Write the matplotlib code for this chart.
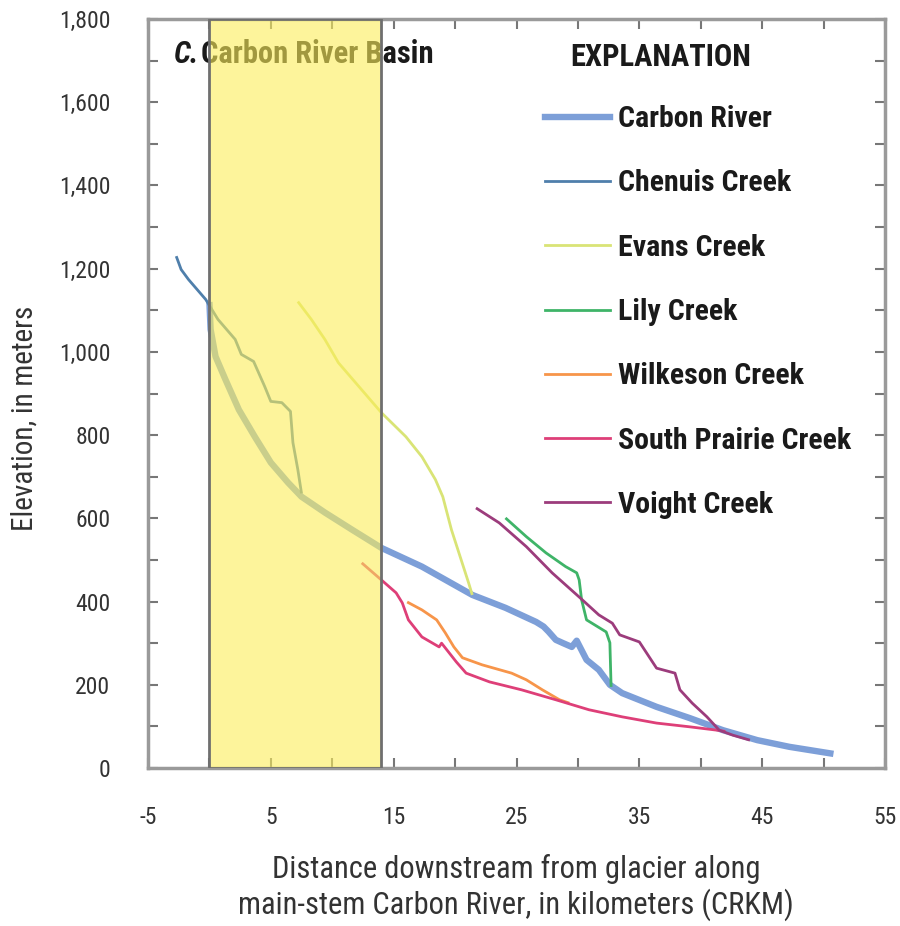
import matplotlib
matplotlib.use("Agg")
import matplotlib.pyplot as plt
from matplotlib.lines import Line2D
from matplotlib.patches import Rectangle
from matplotlib.ticker import FixedLocator, FuncFormatter

FONT = ["Roboto Condensed", "Archivo Narrow", "Barlow Semi Condensed",
        "DejaVu Sans"]
plt.rcParams["font.family"] = FONT
plt.rcParams["axes.unicode_minus"] = False

# ---- river profiles: distance (CRKM) vs elevation (m) ----------------------
carbon_x = [0.0, 0.1, 0.5, 1.3, 2.4, 3.7, 5.0, 6.4, 7.5, 9.4, 11.6, 14.0,
            17.3, 21.4, 24.1, 26.6, 27.2, 27.6, 28.2, 28.8, 29.5, 29.9,
            30.7, 31.7, 32.6, 33.6, 36.4, 39.1, 41.8, 44.6, 47.2, 50.8]
carbon_y = [1120, 1054, 989, 934, 861, 796, 734, 686, 652, 614, 573, 529,
            484, 416, 385, 351, 340, 328, 308, 300, 291, 306,
            260, 236, 200, 180, 147, 120, 91, 67, 51, 34]

chenuis_x = [-2.7, -2.3, -1.7, -0.3, 0.7, 2.1, 2.6, 3.6, 4.5, 5.0, 5.9,
             6.6, 6.8, 7.2, 7.5]
chenuis_y = [1230, 1198, 1174, 1126, 1078, 1030, 994, 977, 917, 881, 878,
             857, 782, 717, 660]

evans_x = [7.2, 8.3, 9.4, 10.5, 11.9, 14.0, 16.0, 17.3, 18.4, 19.0, 19.7,
           21.1, 21.4]
evans_y = [1121, 1078, 1030, 974, 926, 854, 796, 748, 693, 652, 573,
           445, 416]

lily_x = [24.1, 25.8, 27.4, 29.0, 29.9, 30.1, 30.3, 30.7, 32.3, 32.6, 32.7]
lily_y = [601, 556, 517, 484, 469, 452, 404, 356, 327, 301, 195]

wilkeson_x = [16.1, 17.3, 18.5, 19.2, 19.9, 20.6, 22.2, 24.6, 25.8, 27.1,
              28.5, 29.3]
wilkeson_y = [399, 380, 356, 325, 291, 265, 248, 228, 212, 188, 164, 156]

prairie_x = [12.4, 14.0, 15.2, 15.7, 16.2, 17.3, 18.7, 18.9, 20.1, 20.9,
             22.8, 25.4, 28.2, 30.9, 33.6, 36.4, 39.1, 41.3, 42.0]
prairie_y = [493, 452, 421, 397, 356, 315, 291, 300, 255, 228, 207, 188,
             164, 140, 123, 108, 99, 91, 88]

voight_x = [21.7, 23.6, 25.8, 27.9, 30.1, 31.7, 32.8, 33.4, 35.0, 35.6,
            36.4, 37.9, 38.3, 39.3, 40.5, 41.5, 42.6, 44.0]
voight_y = [625, 589, 532, 469, 411, 368, 348, 320, 303, 276, 240, 228,
            188, 156, 123, 91, 79, 67]

BASIN_START, BASIN_END = 0, 14   # shaded reach along the main stem

x_major = [-5, 5, 15, 25, 35, 45, 55]
x_minor = [0, 10, 20, 30, 40, 50]
y_major = [0, 200, 400, 600, 800, 1000, 1200, 1400, 1600, 1800]
y_minor = [100, 300, 500, 700, 900, 1100, 1300, 1500, 1700]

series = [
    ("Carbon River", carbon_x, carbon_y, "#7d9fd8", 4.6),
    ("Chenuis Creek", chenuis_x, chenuis_y, "#4f7fab", 2.0),
    ("Evans Creek", evans_x, evans_y, "#d9e476", 2.0),
    ("Lily Creek", lily_x, lily_y, "#3fb468", 2.0),
    ("Wilkeson Creek", wilkeson_x, wilkeson_y, "#f7954a", 2.0),
    ("South Prairie Creek", prairie_x, prairie_y, "#de3f78", 2.0),
    ("Voight Creek", voight_x, voight_y, "#9c3c7c", 2.0),
]

TXT = "#1a1a1a"
LBL = "#333333"
fig = plt.figure(figsize=(9, 9.26), dpi=100)
ax = fig.add_axes([0.1644, 0.1706, 0.819, 0.8089])

for name, xs, ys, col, lw in series:
    ax.plot(xs, ys, color=col, lw=lw, solid_capstyle="butt", zorder=3)

ax.text(-2.9, 1715, "C.", fontsize=22, fontweight="bold", style="italic",
        color=TXT, va="center", zorder=1)
ax.text(-0.7, 1715, "Carbon River Basin", fontsize=22, fontweight="bold",
        color=TXT, va="center", zorder=1)

# translucent yellow band drawn over the profiles
ax.add_patch(Rectangle((BASIN_START, 0), BASIN_END - BASIN_START, 1800,
                       facecolor=(0.99, 0.935, 0.35, 0.6),
                       edgecolor="#6f6f6f", lw=2.0, zorder=5))

ax.set_xlim(-5, 55)
ax.set_ylim(0, 1800)
ax.xaxis.set_major_locator(FixedLocator(x_major))
ax.xaxis.set_minor_locator(FixedLocator(x_minor))
ax.yaxis.set_major_locator(FixedLocator(y_major))
ax.yaxis.set_minor_locator(FixedLocator(y_minor))
ax.yaxis.set_major_formatter(FuncFormatter(lambda v, p: f"{int(v):,}"))
for which in ("major", "minor"):
    ax.tick_params(axis="both", which=which, direction="in", length=7,
                   width=1.5, color="#777777", top=True, right=True)
ax.tick_params(axis="x", which="major", labelsize=17, pad=27.5,
               labelcolor=LBL)
ax.tick_params(axis="y", which="major", labelsize=17, pad=27,
               labelcolor=LBL)
for sp in ax.spines.values():
    sp.set_color("#9a9a9a")
    sp.set_linewidth(2.5)

ax.set_xlabel("Distance downstream from glacier along\n"
              "main-stem Carbon River, in kilometers (CRKM)",
              fontsize=22, color=LBL, linespacing=1.15,
              verticalalignment="center")
ax.xaxis.set_label_coords(0.499, -0.1595)
ax.set_ylabel("Elevation, in meters", fontsize=21, color=LBL,
              verticalalignment="center")
ax.yaxis.set_label_coords(-0.168, 0.467)

ax.text(0.5726, 0.949, "EXPLANATION", transform=ax.transAxes, fontsize=22,
        fontweight="bold", color=TXT, va="center", zorder=7)
handles = [Line2D([], [], color=col, lw=lw) for _, _, _, col, lw in series]
leg = ax.legend(handles, [s[0] for s in series], loc="upper left",
                bbox_to_anchor=(0.539, 0.885), frameon=False,
                prop={"family": FONT, "weight": "bold", "size": 21.5},
                handlelength=2.17, handletextpad=0.27, labelspacing=1.215,
                borderpad=0, borderaxespad=0)
leg.set_zorder(7)
for t in leg.get_texts():
    t.set_color(TXT)

fig.savefig("out.png", dpi=100, facecolor="white")
